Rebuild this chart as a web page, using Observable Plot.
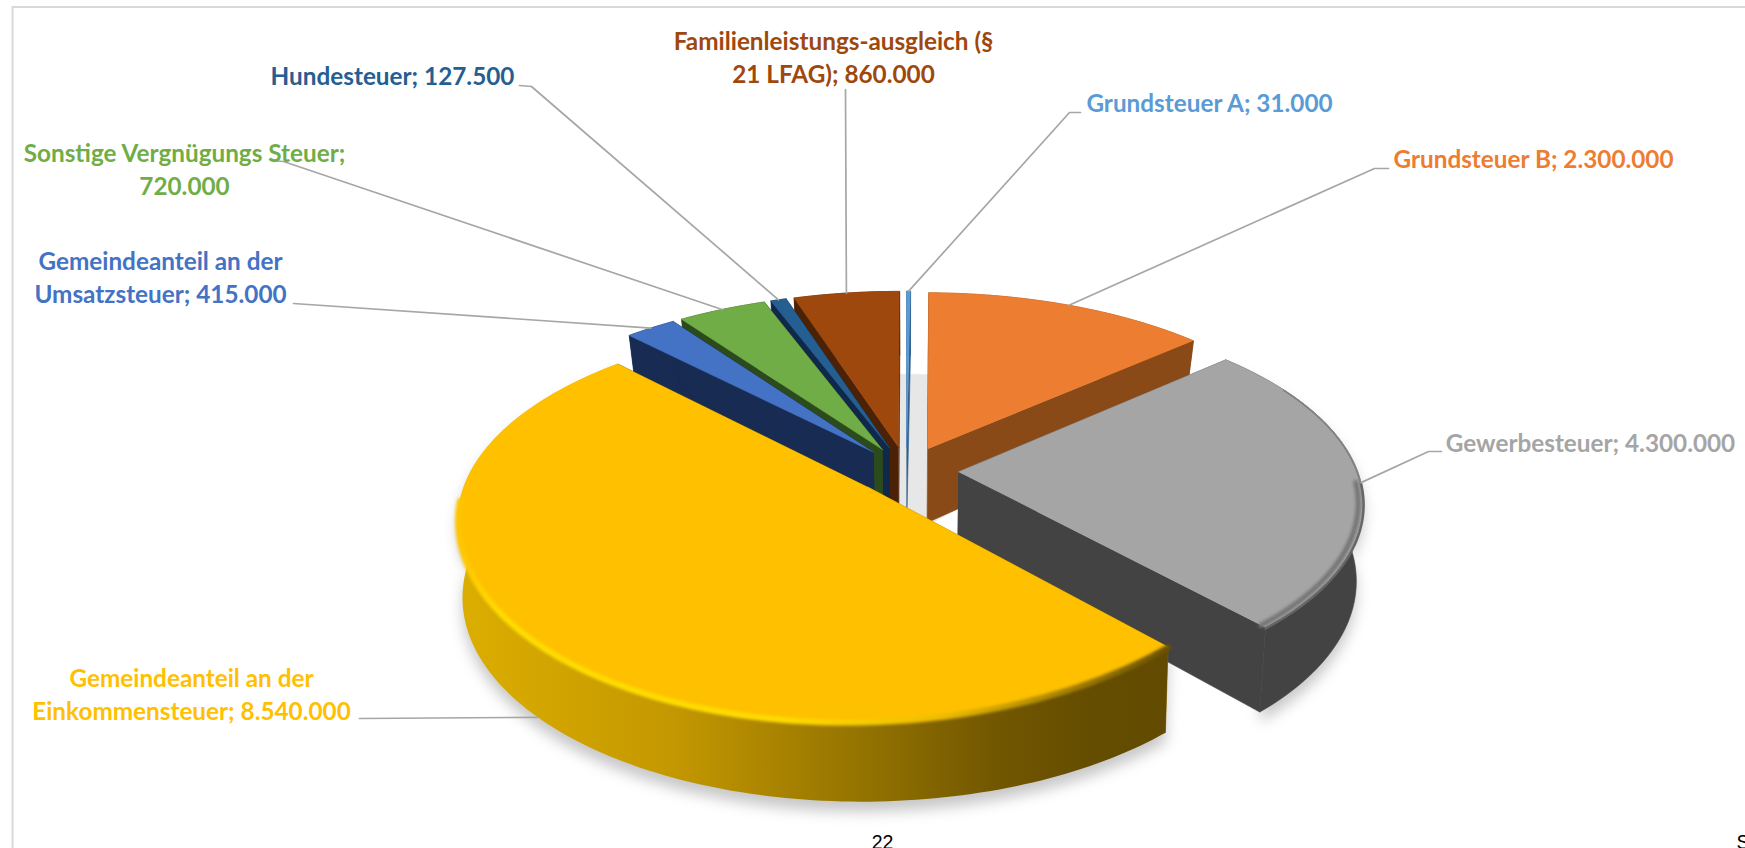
<!DOCTYPE html>
<html><head><meta charset="utf-8">
<style>html,body{margin:0;padding:0;background:#fff;overflow:hidden}</style>
<script src="https://cdn.jsdelivr.net/npm/d3@7"></script>
<script src="https://cdn.jsdelivr.net/npm/@observablehq/plot@0.6"></script>
</head><body><div id="chart"></div>
<script>
// data, clockwise from 12 o'clock
const categories = ["Grundsteuer A","Grundsteuer B","Gewerbesteuer","Gemeindeanteil an der Einkommensteuer","Gemeindeanteil an der Umsatzsteuer","Sonstige Vergnügungs Steuer","Hundesteuer","Familienleistungs-ausgleich (§ 21 LFAG)"];
const values = [31000,2300000,4300000,8540000,415000,720000,127500,860000];
const colors = ["#5B9BD5","#ED7D31","#A5A5A5","#FFC000","#4472C4","#70AD47","#255E91","#9E480E"];
const sideColors = ["#2f5f8c","#8a4a18","#434343","#8a6c00","#182b52","#2c4b1c","#10294a","#4c2206"];
const labelHead = ["Grundsteuer A;","Grundsteuer B;","Gewerbesteuer;","Gemeindeanteil an der\nEinkommensteuer;","Gemeindeanteil an der\nUmsatzsteuer;","Sonstige Vergnügungs Steuer;\n","Hundesteuer;","Familienleistungs-ausgleich (§\n21 LFAG);"];
// annotation placement: label centre and where its leader leaves it
const labelX = [1209,1533,1590,191,160,184,392,833];
const labelY = [100.5,156.5,440.5,692,275,167,73.5,55];
const elbowX = [[1080,1069],[1388,1374],[1441,1428],[359],[293],[270,283],[519,531],[845]];
const elbowY = [[112,112],[168,168],[451,451],[718],[303],[160,161],[85,86],[89]];
// view of the disc
const view = {cx:906, cy:470, a:399, b:185.6, k:0.15, t:75, explode:0.13};
const wallInset = [0.03,0.03,0.016,0.01,0.03,0.03,0.03,0.03];

const total = d3.sum(values);
let run = 0;
const slices = values.map((v,i)=>{
  const a0 = run/total*2*Math.PI; run += v; const a1 = run/total*2*Math.PI; const mid=(a0+a1)/2;
  return {i,a0,a1,mid,ex:view.explode*Math.sin(mid),ey:-view.explode*Math.cos(mid),inset:wallInset[i]};
});
function project(u,v,z,inset){
  const s = 1/(1-view.k*v);
  return {x:view.cx+view.a*u*s*(1-inset*z), y:view.cy+view.b*v*s+view.t*z*s};
}
const pt=(s,th,r,z)=>project(s.ex+r*Math.sin(th), s.ey-r*Math.cos(th), z, s.inset);
function arc(s,a0,a1,z,r=1){
  const n=Math.max(2,Math.ceil(Math.abs(a1-a0)/0.02)); const out=[];
  for(let j=0;j<=n;j++) out.push(pt(s,a0+(a1-a0)*j/n,r,typeof z==="function"?z(j/n):z));
  return out;
}
const poly=(pts,fill,extra={})=>Plot.line(pts,{x:"x",y:"y",fill,stroke:fill,strokeWidth:0.6,...extra});

const marks=[];
marks.push(()=>{
  const defs=d3.create("svg:defs");
  const grad=(id,stops)=>{const g=defs.append("linearGradient").attr("id",id);stops.forEach(([o,c])=>g.append("stop").attr("offset",o).attr("stop-color",c));};
  grad("sideY",[[0,"#dcae00"],[0.3,"#c49800"],[0.55,"#977600"],[0.75,"#735800"],[0.9,"#644c00"],[1,"#624a00"]]);
  grad("rimY",[[0,"#ffc400"],[0.06,"#ffdc00"],[0.45,"#ffdc00"],[0.68,"#eebc00"],[0.85,"#a88400"],[1,"#6b5200"]]);
  return defs.node();
});
// frame of the picture
marks.push(Plot.ruleY([6.5],{x1:12,x2:1745,stroke:"#d9d9d9",strokeWidth:2}));
marks.push(Plot.ruleX([12],{y1:6,y2:848,stroke:"#d9d9d9",strokeWidth:2}));
// floor in the back gap and soft shadows
const whole={ex:0,ey:0,inset:0.03};
const rad=d=>d*Math.PI/180;
marks.push(poly([pt(whole,0,0,0.9),...arc(whole,rad(-25),rad(40),1)],"#e7e7e7"));
const shadowOf=s=>[...arc(s,s.a0,s.a1,0),...arc(s,s.a1,s.a0,1)].map(p=>({x:p.x,y:p.y+10}));
slices.filter(s=>s.i==2||s.i==3).forEach(s=>marks.push(Plot.line(shadowOf(s),{x:"x",y:"y",fill:"#000",fillOpacity:0.22,imageFilter:"blur(7px)"})));

const bevelEnd=0.72;
const swell=f=>0.13*Math.sin(Math.PI*Math.min(f/bevelEnd,1));
const order=[7,6,5,4,0,1,2,3];
order.forEach(i=>{
  const s=slices[i], side=sideColors[i];
  const apexT=pt(s,0,0,0), apexB=pt(s,0,0,1);
  // cut faces
  [s.a0,s.a1].forEach(a=>marks.push(poly([apexT,pt(s,a,1,0),pt(s,a,1,1),apexB],side)));
  // outer wall
  marks.push(poly([...arc(s,s.a0,s.a1,0),...arc(s,s.a1,s.a0,1)],i===3?"url(#sideY)":side,i===3?{stroke:"none"}:{}));
  // top face; the largest slice has a bevel that swells over the front of the wall
  marks.push(poly([apexT,...arc(s,s.a0,s.a1,i===3?swell:0)],colors[i]));
  if(i===3){
    const span=s.a1-s.a0, end=bevelEnd;
    marks.push(Plot.line(arc(s,s.a0,s.a0+span*end,f=>swell(f*end)+0.005),{x:"x",y:"y",stroke:"url(#rimY)",strokeWidth:6,imageFilter:"blur(1.8px)"}));
  }
  if(i===2){
    const span=s.a1-s.a0;
    marks.push(Plot.line(arc(s,s.a0+span*0.15,s.a0+span*0.55,0,0.998),{x:"x",y:"y",stroke:"#808080",strokeWidth:1.6,imageFilter:"blur(0.6px)"}));
    marks.push(Plot.line(arc(s,s.a0+span*0.5,s.a1,0,0.987),{x:"x",y:"y",stroke:"#757575",strokeWidth:5,imageFilter:"blur(1.8px)"}));
    marks.push(Plot.line(arc(s,s.a0+span*0.5,s.a1,0.01),{x:"x",y:"y",stroke:"#666666",strokeWidth:2.5}));
  }
});
// leaders end on the slice rim at its mid-angle
slices.forEach(s=>{
  const front=-Math.cos(s.mid)>0.3;
  const end=pt(s,s.mid,1,front?1:0);
  const pts=[...elbowX[s.i].map((x,j)=>({x,y:elbowY[s.i][j]})),end];
  marks.push(Plot.line(pts,{x:"x",y:"y",stroke:"#a6a6a6",strokeWidth:1.7}));
});
// labels
const fmt=v=>v.toLocaleString("de-DE");
const labels=categories.map((c,i)=>({text:(labelHead[i].endsWith("\n")?labelHead[i]:labelHead[i]+" ")+fmt(values[i]),x:labelX[i],y:labelY[i],c:colors[i]}));
marks.push(Plot.text(labels,{x:"x",y:"y",text:"text",fill:"c",fontFamily:"Lato",fontWeight:"bold",fontSize:24.3,lineHeight:1.36,textAnchor:"middle"}));
// page furniture
marks.push(Plot.text(["22"],{x:()=>882,y:()=>842,text:d=>d,fontFamily:"Liberation Sans",fontSize:19.5,fill:"#000"}));
marks.push(Plot.text(["S"],{x:()=>1736,y:()=>842,text:d=>d,fontFamily:"Liberation Sans",fontSize:19.5,fill:"#000",textAnchor:"start"}));

const plot=Plot.plot({width:1745,height:848,margin:0,
  x:{domain:[0,1745],range:[0,1745],axis:null},
  y:{domain:[0,848],range:[0,848],axis:null},
  style:{background:"#fff"},
  marks});
document.getElementById("chart").append(plot);
</script></body></html>
